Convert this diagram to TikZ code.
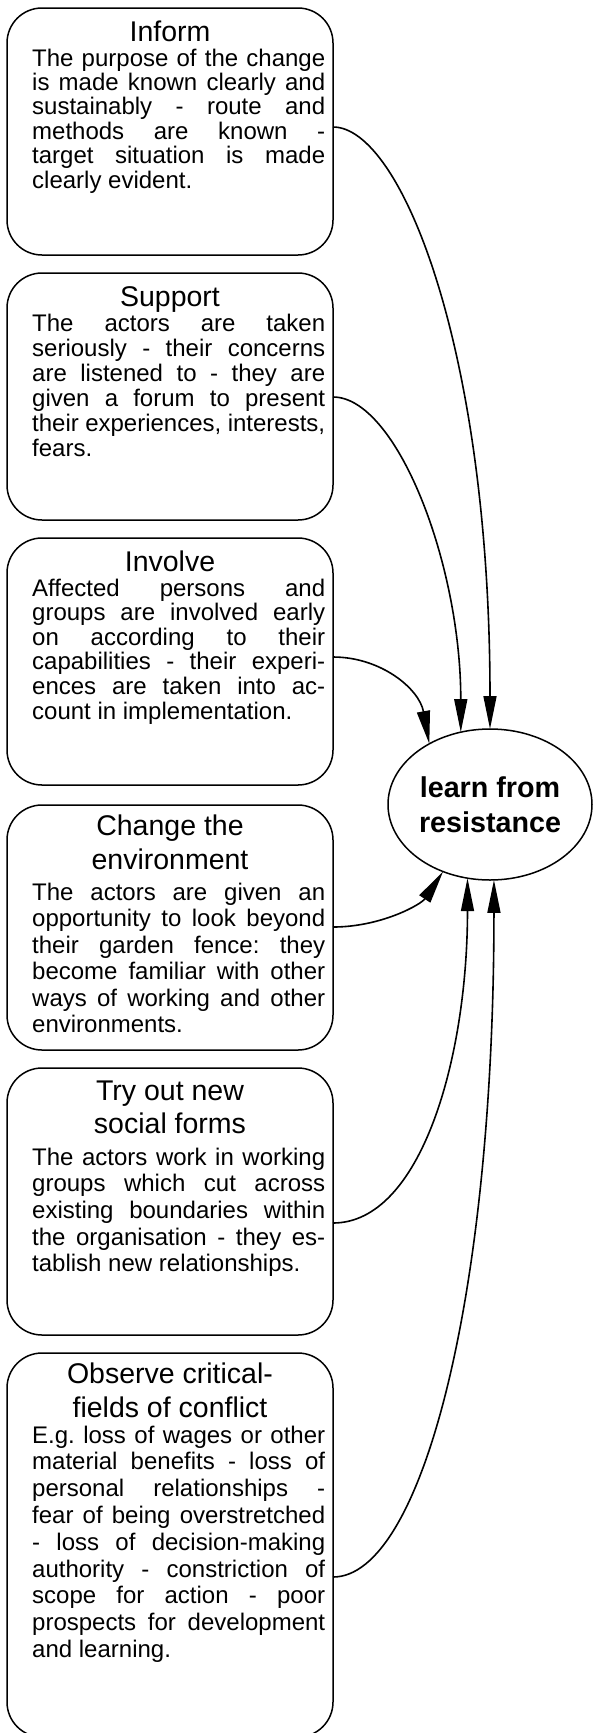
\documentclass[tikz,border=0pt]{standalone}
\usepackage{fontspec}
\setmainfont{Liberation Sans}
\usetikzlibrary{shapes.geometric,arrows.meta}
\newcommand\jl[1]{\makebox[293pt][s]{#1}\\}
\newcommand\bodytxt[2]{\parbox[t]{293pt}{\fontsize{24}{#1}\selectfont\frenchspacing\spaceskip=0.278em plus 0.8em minus 0.18em\relax\lineskiplimit=-30pt\relax #2}}
\newcommand\ttltxt[2]{\parbox[t]{326pt}{\centering\fontsize{28.5}{#1}\selectfont\lineskiplimit=-30pt\relax #2}}
\begin{document}
\begin{tikzpicture}[x=1pt,y=-1pt,
  box/.style={draw, rounded corners=35pt, line width=1.5pt, minimum width=326pt, inner sep=0pt, outer sep=0pt},
  ttl/.style={anchor=base, inner sep=0pt},
  bdy/.style={anchor=base west, inner sep=0pt},
  conn/.style={line width=1.6pt, -{Triangle[length=33pt,width=13pt]}},
]
\useasboundingbox (0,0) rectangle (593,1733);

% boxes
\node[box, minimum height=247pt] (b1) at (170,131.5) {};
\node[box, minimum height=247pt] (b2) at (170,396.5) {};
\node[box, minimum height=247pt] (b3) at (170,661.5) {};
\node[box, minimum height=245pt] (b4) at (170,927.5) {};
\node[box, minimum height=267pt] (b5) at (170,1201.5) {};
\node[box, minimum height=384pt] (b6) at (170,1545) {};

% titles
\node[ttl] (t1) at (170,41) {\ttltxt{34pt}{Inform}};
\node[ttl] (t2) at (170,306) {\ttltxt{34pt}{Support}};
\node[ttl] (t3) at (170,571) {\ttltxt{34pt}{Involve}};
\node[ttl] (t4) at (170,835) {\ttltxt{34pt}{Change the\\environment}};
\node[ttl] (t5) at (170,1100) {\ttltxt{33pt}{Try out new\\social forms}};
\node[ttl] (t6) at (170,1383) {\ttltxt{34pt}{Observe critical-\\fields of conflict}};

% bodies
\node[bdy] (x1) at (32,66) {\bodytxt{24.4pt}{%
\jl{The purpose of the change}\jl{is made known clearly and}\jl{sustainably - route and}%
\jl{methods are known -}\jl{target situation is made}clearly evident.}};
\node[bdy] (x2) at (32,331) {\bodytxt{25pt}{%
\jl{The actors are taken}\jl{seriously - their concerns}\jl{are listened to - they are}%
\jl{given a forum to present}\jl{their experiences, interests,}fears.}};
\node[bdy] (x3) at (32,596) {\bodytxt{24.6pt}{%
\jl{Affected persons and}\jl{groups are involved early}\jl{on according to their}%
\jl{capabilities - their experi-}\jl{ences are taken into ac-}count in implementation.}};
\node[bdy] (x4) at (32,900) {\bodytxt{26.5pt}{%
\jl{The actors are given an}\jl{opportunity to look beyond}\jl{their garden fence: they}%
\jl{become familiar with other}\jl{ways of working and other}environments.}};
\node[bdy] (x5) at (32,1165) {\bodytxt{26.7pt}{%
\jl{The actors work in working}\jl{groups which cut across}\jl{existing boundaries within}%
\jl{the organisation - they es-}tablish new relationships.}};
\node[bdy] (x6) at (32,1443) {\bodytxt{26.8pt}{%
\jl{E.g. loss of wages or other}\jl{material benefits - loss of}\jl{personal relationships -}%
\jl{fear of being overstretched}\jl{- loss of decision-making}\jl{authority - constriction of}%
\jl{scope for action - poor}\jl{prospects for development}and learning.}};

% centre
\node[draw, ellipse, line width=1.5pt, minimum width=204pt, minimum height=151pt,
  inner sep=0pt, outer sep=0pt, align=center,
  font=\fontsize{28.7}{35}\selectfont\bfseries] (L) at (490,804.5) {learn from\\resistance};

% connectors
\draw[conn] (b1.east |- 0,127)  .. controls +(68,0) and +(0,-380) .. (L.north);
\draw[conn] (b2.east |- 0,397)  .. controls +(63,0) and +(0,-170) .. (L.112);
\draw[conn] (b3.east |- 0,657)  .. controls +(48,0) and +(-10,-55) .. (L.135);
\draw[conn] (b4.east |- 0,927)  .. controls +(48,0) and +(-22,33) .. (L.235);
\draw[conn] (b5.east |- 0,1223) .. controls +(88,0) and +(0,180) .. (L.253);
\draw[conn] (b6.east |- 0,1577) .. controls +(88,0) and +(0,420) .. (L.273);
\end{tikzpicture}
\end{document}
